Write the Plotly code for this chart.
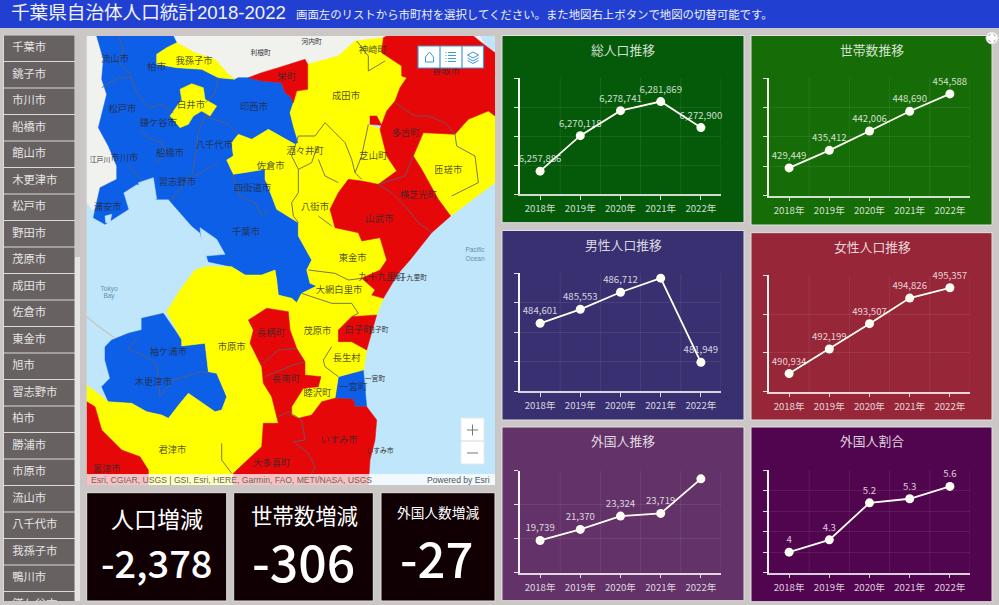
import plotly.graph_objects as go

W, H = 999, 605
FONT = "Noto Sans CJK JP"
LATIN = "Liberation Sans, Noto Sans CJK JP"

# ---- chart values
years = ["2018年", "2019年", "2020年", "2021年", "2022年"]
total_pop = [6257886, 6270118, 6278741, 6281869, 6272900]
households = [429449, 435412, 442006, 448690, 454588]
male_pop = [484601, 485553, 486712, 487670, 481949]
female_pop = [490934, 492199, 493507, 494826, 495357]
foreign_pop = [19739, 21370, 23324, 23719, 28800]
foreign_ratio = [4, 4.3, 5.2, 5.3, 5.6]

# the source does not show these labels
male_labels = ["484,601", "485,553", "486,712", "", "481,949"]
foreign_labels = ["19,739", "21,370", "23,324", "23,719", ""]

cities = ["千葉市", "銚子市", "市川市", "船橋市", "館山市", "木更津市", "松戸市", "野田市",
          "茂原市", "成田市", "佐倉市", "東金市", "旭市", "習志野市", "柏市", "勝浦市",
          "市原市", "流山市", "八千代市", "我孫子市", "鴨川市", "鎌ケ谷市"]

kpi_titles = ["人口増減", "世帯数増減", "外国人数増減"]
kpi_values = ["-2,378", "-306", "-27"]


def south(pts):
    # outlines of the lower half were read with y starting at the middle of the map
    return [(x, y + 672) for x, y in pts]


# ---- map outlines
land_areas = [
    [(265, 0), (905, 0), (895, 5), (810, 15), (760, 60), (668, 85), (660, 70), (580, 95), (530, 110),
     (490, 125), (460, 125), (450, 130), (430, 115), (390, 70), (330, 50), (275, 20)],
    [(5, 0), (35, 0), (55, 70), (50, 130), (65, 175), (40, 275), (70, 330), (95, 390), (95, 430),
     (45, 455), (25, 525), (5, 500)],
    [(1165, 0), (1185, 0), (1200, 30), (1230, 45), (1230, 50), (1190, 20)],
]
blue_areas = [
    [(35, 0), (265, 0), (275, 20), (245, 35), (215, 55), (215, 85), (275, 95), (350, 100), (400, 125),
     (450, 130), (460, 125), (490, 125), (530, 135), (590, 140), (600, 170), (615, 180), (625, 200),
     (615, 230), (625, 270), (640, 320), (630, 325), (550, 280), (500, 310), (460, 295), (440, 320),
     (445, 360), (425, 372), (445, 415), (480, 410), (540, 400), (540, 430), (560, 480), (575, 520),
     (640, 560), (640, 600), (680, 672), (665, 702), (675, 742), (695, 750), (650, 772), (635, 800),
     (620, 787), (580, 777), (575, 732), (570, 702), (530, 717), (480, 717), (440, 692), (370, 677),
     (355, 625), (345, 590), (320, 570), (250, 490), (210, 490), (205, 450), (155, 445), (115, 470),
     (130, 520), (60, 565), (25, 545), (45, 455), (95, 430), (95, 390), (70, 330), (40, 275), (65, 175),
     (50, 130), (55, 70)],
    south([(60, 260), (80, 240), (130, 220), (170, 210), (170, 175), (235, 160), (290, 240), (290, 258),
           (360, 250), (370, 335), (395, 340), (425, 410), (410, 450), (390, 455), (310, 400), (285, 430),
           (250, 475), (230, 465), (185, 455), (140, 430), (70, 425), (50, 380), (75, 355), (60, 300)]),
    south([(760, 350), (835, 330), (845, 440), (810, 440), (805, 418), (750, 415)]),
]
yellow_areas = [
    [(215, 55), (245, 35), (275, 20), (330, 50), (390, 70), (430, 115), (450, 130), (400, 125),
     (350, 100), (275, 95), (215, 85)],
    [(255, 240), (290, 190), (285, 160), (320, 143), (355, 155), (360, 190), (395, 210), (375, 240),
     (350, 225), (325, 240), (310, 265), (285, 275)],
    [(668, 85), (760, 60), (810, 15), (895, 5), (890, 50), (950, 90), (950, 120), (965, 125), (945, 155),
     (930, 195), (905, 225), (890, 265), (875, 240), (855, 245), (850, 265), (885, 280), (895, 320),
     (905, 360), (935, 405), (880, 445), (830, 435), (790, 430), (760, 470), (735, 520), (750, 575),
     (820, 590), (830, 615), (885, 605), (905, 672), (885, 702), (830, 727), (870, 762), (860, 777),
     (895, 787), (875, 837), (800, 842), (760, 882), (760, 917), (800, 917), (845, 942), (835, 1002),
     (760, 1022), (750, 1087), (710, 1097), (680, 1137), (640, 1147), (620, 1137), (620, 1112), (655, 1057),
     (700, 1052), (708, 1022), (660, 1017), (660, 977), (635, 937), (615, 882), (610, 827), (620, 787),
     (635, 800), (650, 772), (695, 750), (675, 742), (665, 702), (680, 672), (640, 600), (640, 560),
     (575, 520), (560, 480), (540, 430), (540, 400), (480, 410), (445, 415), (425, 372), (445, 360),
     (440, 320), (460, 295), (500, 310), (550, 280), (630, 325), (640, 320), (625, 270), (615, 230),
     (625, 200), (635, 165), (668, 160)],
    [(985, 360), (1015, 290), (1110, 295), (1150, 250), (1210, 225), (1230, 240), (1230, 440), (1097, 540),
     (1060, 490), (1020, 430), (1010, 400)],
    south([(245, 155), (285, 90), (330, 30), (360, 20), (440, 20), (480, 45), (530, 45), (570, 30), (575, 60),
           (580, 105), (620, 115), (610, 155), (545, 145), (490, 180), (505, 210), (495, 250), (530, 320),
           (535, 370), (560, 410), (580, 490), (535, 490), (530, 560), (500, 590), (445, 640), (445, 675),
           (190, 675), (190, 630), (165, 590), (110, 570), (50, 510), (30, 440), (5, 425), (5, 375), (50, 410),
           (70, 425), (140, 430), (185, 455), (230, 465), (250, 475), (285, 430), (310, 400), (390, 455),
           (410, 450), (425, 410), (395, 340), (370, 335), (360, 250), (290, 258), (290, 240)]),
]
red_areas = [
    [(905, 0), (1165, 0), (1190, 20), (1230, 50), (1230, 240), (1210, 225), (1150, 250), (1110, 295),
     (1015, 290), (985, 360), (1010, 400), (1060, 490), (1097, 540), (1040, 590), (975, 672), (940, 712),
     (895, 787), (860, 777), (870, 762), (830, 727), (885, 702), (905, 672), (885, 605), (830, 615),
     (820, 590), (750, 575), (735, 520), (760, 470), (790, 430), (830, 435), (880, 445), (935, 405),
     (905, 360), (895, 320), (885, 280), (890, 265), (905, 225), (930, 195), (945, 155), (965, 125),
     (950, 120), (950, 90), (890, 50), (895, 5)],
    [(855, 265), (855, 240), (875, 240), (890, 268)],
    [(490, 125), (530, 110), (580, 95), (660, 70), (668, 85), (668, 160), (635, 165), (625, 200), (615, 180),
     (600, 170), (590, 140), (530, 135)],
    south([(800, 170), (875, 165), (845, 270), (800, 245), (760, 245), (760, 210)]),
    south([(490, 180), (545, 145), (610, 155), (615, 210), (635, 265), (660, 305), (660, 345), (708, 350),
           (700, 380), (655, 385), (620, 440), (620, 465), (640, 475), (680, 465), (710, 425), (750, 415),
           (805, 418), (810, 440), (845, 440), (875, 480), (870, 540), (855, 600), (850, 675), (445, 675),
           (445, 640), (500, 590), (530, 560), (535, 490), (580, 490), (560, 410), (535, 370), (530, 320),
           (495, 250), (505, 210)]),
    south([(5, 425), (30, 440), (50, 510), (110, 570), (165, 590), (190, 630), (190, 675), (5, 675)]),
]
harbour_areas = [
    [(345, 575), (395, 610), (420, 655), (360, 660), (350, 620)],
    [(160, 440), (205, 425), (215, 490), (200, 490), (190, 455), (165, 455)],
    [(60, 540), (80, 535), (75, 560), (62, 560)],
]
borders = [
    [(100, 0), (115, 40), (100, 75), (135, 115), (155, 170), (190, 215), (230, 205), (265, 230)],
    [(50, 155), (100, 125), (140, 125)],
    [(400, 125), (390, 170), (362, 200)],
    [(360, 240), (340, 290), (330, 370), (320, 420), (255, 495)],
    [(165, 285), (190, 305), (230, 320), (245, 350), (215, 380)],
    [(130, 390), (170, 430)],
    [(400, 380), (330, 420)],
    [(360, 240), (430, 265), (460, 295)],
    [(440, 410), (465, 480), (510, 500), (530, 540), (555, 520)],
    [(720, 260), (690, 300), (640, 300), (620, 360), (640, 400), (680, 380), (690, 350), (700, 330)],
    [(720, 260), (780, 320), (800, 370), (810, 410), (830, 430)],
    [(700, 370), (720, 420), (760, 440)],
    [(640, 400), (640, 470), (620, 500), (625, 540), (640, 560)],
    [(700, 540), (740, 570)],
    [(850, 265), (840, 310), (830, 360), (810, 410)],
    [(815, 15), (850, 60), (850, 105), (900, 75)],
    [(930, 200), (990, 240), (1030, 240), (1080, 260), (1110, 295)],
    [(985, 360), (960, 420), (880, 445), (920, 470), (960, 510), (1000, 560), (1040, 590)],
    [(1110, 295), (1115, 330), (1170, 360), (1180, 440), (1100, 480)],
    south([(130, 265), (160, 230)]),
    south([(130, 265), (190, 295), (215, 315), (225, 410), (265, 360), (350, 335), (370, 340)]),
    south([(670, 30), (750, 40), (790, 60), (830, 55)]),
    south([(650, 100), (740, 130), (800, 130), (820, 160), (800, 170)]),
    south([(740, 260), (715, 300), (720, 320), (760, 350)]),
    south([(535, 310), (580, 270), (635, 265)]),
    south([(540, 350), (625, 315), (660, 305)]),
    south([(580, 470), (610, 455), (650, 480), (660, 540), (625, 545), (670, 580), (690, 620), (680, 640)]),
    south([(410, 550), (410, 600), (440, 640)]),
]
aqua_line = south([(5, 170), (35, 195), (90, 235)])

place_names = ["流山市", "柏市", "我孫子市", "神崎町", "香取市", "栄町", "成田市", "白井市", "印西市", "松戸市",
               "鎌ケ谷市", "多古町", "八千代市", "船橋市", "市川市", "酒々井町", "佐倉市", "芝山町", "匝瑳市",
               "習志野市", "四街道市", "横芝光町", "浦安市", "八街市", "山武市", "千葉市", "東金市"]
place_xy = [(90, 70), (215, 95), (327, 78), (863, 45), (1083, 108), (605, 125), (783, 182), (318, 208), (507, 215),
            (112, 220), (220, 263), (962, 293), (388, 328), (255, 352), (118, 368), (660, 347), (557, 393), (865, 363),
            (1090, 403), (277, 441), (503, 459), (1000, 480), (68, 515), (690, 516), (883, 550), (483, 591), (803, 668)]
place_names_s = ["九十九里町", "大網白里市", "袖ケ浦市", "市原市", "長柄町", "茂原市", "白子町", "長生村", "木更津市",
                 "長南町", "睦沢町", "一宮町", "いすみ市", "君津市", "大多喜町", "富津市"]
place_xy_s = [(890, 53), (762, 93), (250, 278), (440, 262), (558, 222), (697, 214), (820, 212), (785, 297), (205, 368),
              (603, 358), (697, 402), (805, 384), (762, 543), (262, 573), (560, 610), (65, 628)]
basemap_names = ["河内町", "利根町", "江戸川", "九十九里町", "白子町", "一宮町", "いすみ市"]
basemap_xy = [(680, 20), (527, 53), (45, 373)] + south([(975, 55), (880, 212), (870, 357), (885, 573)])
sea_names = ["Pacific", "Ocean", "Tokyo", "Bay"]
sea_xy = [(1170, 643), (1170, 670)] + south([(72, 88), (72, 110)])


def px_x(x):
    return x / W


def px_y(y):
    return 1 - y / H


def rings(polys):
    xs, ys = [], []
    for poly in polys:
        xs += [p[0] for p in poly] + [poly[0][0], None]
        ys += [p[1] for p in poly] + [poly[0][1], None]
    return xs, ys


def box(x0, y0, x1, y1, fill, line=None, width=1, layer="below"):
    return dict(type="rect", xref="paper", yref="paper", x0=px_x(x0), x1=px_x(x1), y0=px_y(y1), y1=px_y(y0),
                fillcolor=fill, line=dict(color=line or fill, width=width if line else 0), layer=layer)


def stroke(points, color, width=1.2, closed=False, fill=None):
    d = "M " + " L ".join(f"{px_x(x):.5f},{px_y(y):.5f}" for x, y in points)
    if closed:
        d += " Z"
    return dict(type="path", xref="paper", yref="paper", path=d, layer="above",
                line=dict(color=color, width=width), fillcolor=fill or "rgba(0,0,0,0)")


def text(x, y, s, size, color="white", anchor="center", family=FONT, weight=None):
    return dict(xref="paper", yref="paper", x=px_x(x), y=px_y(y), text=s, showarrow=False, xanchor=anchor,
                yanchor="middle", font=dict(family=family, size=size, color=color, weight=weight),
                borderpad=0, align="left")


fig = go.Figure()
shapes = []
annotations = []

# page pieces
shapes.append(box(0, 0, W, H, "#cbc7c7"))
shapes.append(box(0, 0, W, 28, "#2140d2"))
annotations.append(text(10, 12.5, "千葉県自治体人口統計2018-2022", 18.6, "#f2f2f2", "left", LATIN))
annotations.append(text(295, 14, "画面左のリストから市町村を選択してください。また地図右上ボタンで地図の切替可能です。",
                        11.4, "#f0f0f0", "left"))

# ---- city list
shapes.append(box(3, 35, 80, 601, "#dcd9d9"))
shapes.append(box(75, 35, 80, 601, "#e6e4e4"))
shapes.append(box(75, 35, 80, 257, "#c9c5c5"))
fig.add_trace(go.Bar(y=cities, x=[1] * len(cities), orientation="h", width=0.96, xaxis="x", yaxis="y",
                     marker=dict(color="#676261", line=dict(width=0)), hoverinfo="skip"))
fig.add_trace(go.Scatter(y=cities, x=[0.115] * len(cities), mode="text", text=cities, textposition="middle right",
                         textfont=dict(family=FONT, size=11.3, color="#e6e4e4"), cliponaxis=True,
                         xaxis="x", yaxis="y", hoverinfo="skip"))
layout_axes = dict(
    xaxis=dict(domain=[px_x(4), px_x(74.7)], range=[0, 1], visible=False, fixedrange=True),
    yaxis=dict(domain=[px_y(601), px_y(35)], type="category", categoryorder="array", categoryarray=cities,
               range=[20.86, -0.5], visible=False, fixedrange=True),
)

# ---- map
shapes.append(box(86.7, 36, 495, 485, "#bfe6fb"))
map_ax = dict(visible=False, fixedrange=True)
layout_axes["xaxis2"] = dict(domain=[px_x(86.7), px_x(495)], range=[5, 1230], **map_ax)
layout_axes["yaxis2"] = dict(domain=[px_y(485), px_y(36)], range=[1347, 0], **map_ax)

for polys, color in [(land_areas, "#f1f1ee"), (blue_areas, "#0d5fe8"), (yellow_areas, "#ffff00"),
                     (red_areas, "#e60808"), (harbour_areas, "#bfe6fb")]:
    xs, ys = rings(polys)
    fig.add_trace(go.Scatter(x=xs, y=ys, mode="lines", fill="toself", fillcolor=color, xaxis="x2", yaxis="y2",
                             line=dict(color=color, width=0.5), hoverinfo="skip"))
# border polylines stay open
xs, ys = [], []
for line in borders:
    xs += [p[0] for p in line] + [None]
    ys += [p[1] for p in line] + [None]
fig.add_trace(go.Scatter(x=xs, y=ys, mode="lines", xaxis="x2", yaxis="y2", hoverinfo="skip",
                         line=dict(color="rgba(95,95,105,0.85)", width=1)))
fig.add_trace(go.Scatter(x=[p[0] for p in aqua_line], y=[p[1] for p in aqua_line], mode="lines", xaxis="x2", yaxis="y2",
                         hoverinfo="skip", line=dict(color="#c9c4c0", width=1.2)))

all_xy = place_xy + south(place_xy_s)
fig.add_trace(go.Scatter(x=[p[0] for p in all_xy], y=[p[1] for p in all_xy], mode="text",
                         text=place_names + place_names_s, textposition="middle center", xaxis="x2", yaxis="y2",
                         textfont=dict(family=FONT, size=9.3, color="rgba(40,40,45,0.8)"), hoverinfo="skip"))
fig.add_trace(go.Scatter(x=[p[0] for p in basemap_xy], y=[p[1] for p in basemap_xy], mode="text",
                         text=basemap_names, textposition="middle center", xaxis="x2", yaxis="y2",
                         textfont=dict(family=FONT, size=6.8, color="#333333"), hoverinfo="skip"))
fig.add_trace(go.Scatter(x=[p[0] for p in sea_xy], y=[p[1] for p in sea_xy], mode="text",
                         text=sea_names, textposition="middle center", xaxis="x2", yaxis="y2",
                         textfont=dict(family=LATIN, size=6.5, color="#5f93ad"), hoverinfo="skip"))

# attribution strip
shapes.append(box(86.7, 474, 495, 485, "rgba(255,255,255,0.75)", layer="above"))
annotations.append(text(90, 479.5, "Esri, CGIAR, USGS | GSI, Esri, HERE, Garmin, FAO, METI/NASA, USGS", 8.6, "#666666",
                        "left", LATIN))
annotations.append(text(491, 479.5, "Powered by Esri", 8.6, "#555555", "right", LATIN))

# map buttons
shapes.append(box(418, 46, 483.5, 68, "white", "#3d9bd6", 1.2, "above"))
shapes.append(stroke([(440, 46), (440, 68)], "#3d9bd6"))
shapes.append(stroke([(462, 46), (462, 68)], "#3d9bd6"))
shapes.append(stroke([(425.5, 57), (429.5, 52), (433.5, 57), (433.5, 62), (425.5, 62)], "#3d9bd6", 1, True))
for row in (52.5, 55.5, 58.5, 61.5):
    shapes.append(stroke([(448, row), (456, row)], "#3d9bd6", 1))
    shapes.append(stroke([(445.5, row), (446.5, row)], "#3d9bd6", 1))
shapes.append(stroke([(467.5, 55), (473, 52), (478.5, 55), (473, 58)], "#3d9bd6", 1, True))
shapes.append(stroke([(467.5, 58), (473, 61), (478.5, 58)], "#3d9bd6", 1))
shapes.append(stroke([(467.5, 60.5), (473, 63.5), (478.5, 60.5)], "#3d9bd6", 1))
shapes.append(box(461, 418, 484, 464, "white", "#e8e8e8", 1, "above"))
shapes.append(stroke([(461, 441), (484, 441)], "#dddddd"))
shapes.append(stroke([(467, 430), (478, 430)], "#777777", 1))
shapes.append(stroke([(472.5, 424.5), (472.5, 435.5)], "#777777", 1))
shapes.append(stroke([(467, 453), (478, 453)], "#777777", 1))

# ---- KPI boxes
kpi_boxes = [(86.7, 226.7), (233.7, 373.3), (381, 495)]
kpi_title_pos = [(157, 518, 23), (304, 514, 21.4), (438, 512, 13.7)]
kpi_value_pos = [(157, 561, 38), (303, 560, 50), (436, 556, 49)]
for (x0, x1), ts, vs, t, v in zip(kpi_boxes, kpi_title_pos, kpi_value_pos, kpi_titles, kpi_values):
    shapes.append(box(x0, 492.7, x1, 601, "#100003", "#e4e0e0", 1))
    annotations.append(text(ts[0], ts[1], t, ts[2], "white"))
    annotations.append(text(vs[0], vs[1], v, vs[2], "white", weight=500))

# ---- line chart panels
panels = [
    dict(title="総人口推移", values=total_pop, labels=None, color="#055a0a", box=(502, 35.5, 744, 222.7),
         plot=(520, 78, 721, 194), yrange=[6250000, 6290000], dtick=10000),
    dict(title="世帯数推移", values=households, labels=None, color="#166c07", box=(751, 35.5, 992, 225),
         plot=(769, 78, 970, 195.7), yrange=[420000, 460000], dtick=10000),
    dict(title="男性人口推移", values=male_pop, labels=male_labels, color="#383070", box=(502, 230.5, 744, 420),
         plot=(520, 273.3, 721, 391), yrange=[480000, 488000], dtick=2000),
    dict(title="女性人口推移", values=female_pop, labels=None, color="#962638", box=(751, 232.7, 992, 420),
         plot=(769, 275.3, 970, 391.7), yrange=[490000, 496000], dtick=2000),
    dict(title="外国人推移", values=foreign_pop, labels=foreign_labels, color="#623268", box=(502, 427, 744, 600.7),
         plot=(520, 470.7, 721, 572.7), yrange=[15000, 30000], dtick=5000),
    dict(title="外国人割合", values=foreign_ratio, labels=None, color="#52054f", box=(751, 427, 992, 601.7),
         plot=(769, 470, 970, 572.7), yrange=[3.5, 6], dtick=0.5),
]

for i, p in enumerate(panels, start=3):
    x0, y0, x1, y1 = p["box"]
    px0, py0, px1, py1 = p["plot"]
    shapes.append(box(x0, y0, x1, y1, p["color"], "#e4e0e0", 1))
    annotations.append(text((px0 + px1) / 2 + 2.5, y0 + 13.5, p["title"], 12.8, "rgba(255,255,255,0.82)"))

    labels = p["labels"] or [f"{v:,}" for v in p["values"]]
    fig.add_trace(go.Scatter(x=years, y=p["values"], mode="lines+markers+text", text=labels,
                             textposition="top center", cliponaxis=False, xaxis=f"x{i}", yaxis=f"y{i}",
                             textfont=dict(family=FONT, size=9.6, color="rgba(255,255,255,0.8)"),
                             line=dict(color="#fffff5", width=1.8),
                             marker=dict(color="#fffff5", size=9), hoverinfo="skip"))
    layout_axes[f"xaxis{i}"] = dict(domain=[px_x(px0), px_x(px1)], type="category", categoryorder="array",
                                    categoryarray=years, range=[-0.5, 4.5], showgrid=False, showline=True,
                                    linecolor="rgba(255,255,255,0.8)", linewidth=1.5, ticks="outside", ticklen=4,
                                    tickcolor="rgba(255,255,255,0.8)", tickwidth=1, fixedrange=True,
                                    tickfont=dict(family=FONT, size=9.6, color="rgba(255,255,255,0.8)"),
                                    anchor=f"y{i}", ticklabelstandoff=1)
    layout_axes[f"yaxis{i}"] = dict(domain=[px_y(py1), px_y(py0)], range=p["yrange"], dtick=p["dtick"],
                                    tick0=p["yrange"][0], showticklabels=False, showline=True,
                                    linecolor="#f4f4ee", linewidth=1.8, ticks="outside", ticklen=4,
                                    tickcolor="rgba(255,255,255,0.85)", tickwidth=1.2, zeroline=False,
                                    gridcolor="rgba(255,255,255,0.08)", gridwidth=1, fixedrange=True,
                                    anchor=f"x{i}")
    # faint vertical grid sits between the year ticks, and closes the right side
    for edge in (0.5, 1.5, 2.5, 3.5, 4.5):
        shapes.append(dict(type="line", xref=f"x{i}", yref=f"y{i} domain", x0=edge, x1=edge, y0=0, y1=1,
                           line=dict(color="rgba(255,255,255,0.08)", width=1), layer="below"))

# resize control in the top right corner
shapes.append(dict(type="circle", xref="paper", yref="paper", x0=px_x(986), x1=px_x(998), y0=px_y(44), y1=px_y(32),
                   fillcolor="white", line=dict(color="#dddddd", width=1), layer="above"))
for a, b in [((988.5, 36), (990.5, 34)), ((995.5, 36), (993.5, 34)), ((988.5, 40), (990.5, 42)), ((995.5, 40), (993.5, 42))]:
    shapes.append(stroke([a, b], "#888888", 1))

fig.update_layout(
    width=W, height=H, margin=dict(l=0, r=0, t=0, b=0), showlegend=False,
    paper_bgcolor="#cbc7c7", plot_bgcolor="rgba(0,0,0,0)",
    shapes=shapes, annotations=annotations, **layout_axes,
)
fig.write_html("out.html", config=dict(displayModeBar=False),
               post_script="document.body.style.margin='0';document.body.style.overflow='hidden';")
